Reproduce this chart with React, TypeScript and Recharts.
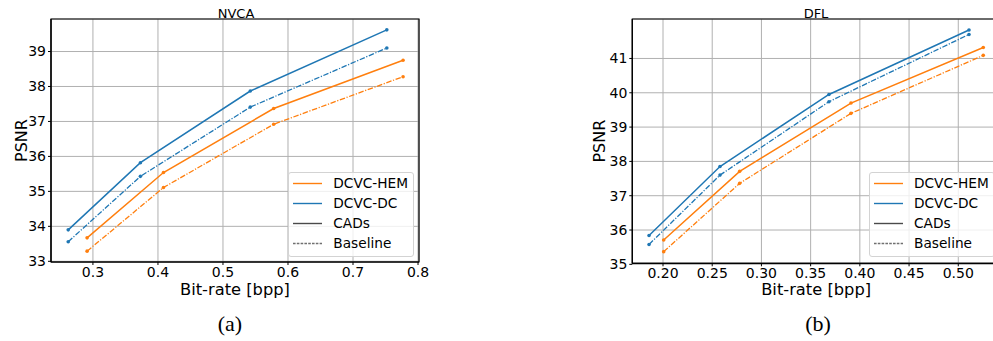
import React from 'react';
import { LineChart, Line, XAxis, YAxis, CartesianGrid, ReferenceArea, Legend, Label } from 'recharts';

const COLOR_HEM = '#ff7f0e';
const COLOR_DC = '#1f77b4';

// (a) NVCA
const nvcaHemRate = [0.291, 0.4085, 0.578, 0.777];
const nvcaHemCads = [33.67, 35.54, 37.37, 38.75];
const nvcaHemBase = [33.29, 35.11, 36.92, 38.28];
const nvcaDcRate = [0.262, 0.373, 0.542, 0.752];
const nvcaDcCads = [33.9, 35.82, 37.87, 39.62];
const nvcaDcBase = [33.56, 35.43, 37.41, 39.1];
const nvcaXTicks = [0.3, 0.4, 0.5, 0.6, 0.7, 0.8];
const nvcaYTicks = [33, 34, 35, 36, 37, 38, 39];

// (b) DFL
const dflHemRate = [0.2007, 0.2779, 0.391, 0.5254];
const dflHemCads = [35.71, 37.71, 39.7, 41.32];
const dflHemBase = [35.37, 37.36, 39.4, 41.09];
const dflDcRate = [0.1858, 0.2579, 0.3686, 0.5109];
const dflDcCads = [35.84, 37.85, 39.95, 41.83];
const dflDcBase = [35.58, 37.6, 39.74, 41.7];
const dflXTicks = [0.2, 0.25, 0.3, 0.35, 0.4, 0.45, 0.5];
const dflYTicks = [35, 36, 37, 38, 39, 40, 41];

const legendItems = [
  { label: 'DCVC-HEM', color: COLOR_HEM, dash: '' },
  { label: 'DCVC-DC', color: COLOR_DC, dash: '' },
  { label: 'CADs', color: '#4a4a4a', dash: '' },
  { label: 'Baseline', color: '#707070', dash: '2.6 1.2' },
];

const zip = (xs: number[], ys: number[]) => xs.map((x, i) => ({ x, y: ys[i] }));

type Series = { name: string; rate: number[]; vals: number[]; color: string; dashed: boolean };

type PanelProps = {
  left: number;
  width: number;
  yAxisWidth: number;
  marginRight: number;
  xAxisHeight: number;
  xDomain: [number, number];
  yDomain: [number, number];
  xTicks: number[];
  yTicks: number[];
  xDecimals: number;
  series: Series[];
  legendLeft: number;
  legendTop: number;
  psnrX: number;
  xLabelY: number;
};

const LegendBox = () => (
  <div
    style={{
      boxSizing: 'border-box',
      width: 126,
      height: 85,
      border: '1px solid #d3d3d3',
      borderRadius: 3,
      background: 'rgba(255,255,255,0.8)',
      paddingTop: 0,
      fontFamily: '"DejaVu Sans", sans-serif',
      fontSize: 13.7,
      color: '#000',
    }}
  >
    {legendItems.map((it) => (
      <div key={it.label} style={{ display: 'flex', alignItems: 'center', height: 20 }}>
        <svg width={44} height={20} style={{ display: 'block' }}>
          <line x1={4} x2={33} y1={10.5} y2={10.5} stroke={it.color} strokeWidth={1.4} strokeDasharray={it.dash || undefined} />
        </svg>
        <span style={{ whiteSpace: 'nowrap', lineHeight: '20px' }}>{it.label}</span>
      </div>
    ))}
  </div>
);

const Panel = (p: PanelProps) => {
  const height = 300;
  const plotLeft = p.yAxisWidth;
  const plotRight = p.width - p.marginRight;
  const cx = (plotLeft + plotRight) / 2;
  const plotTop = 19;
  const plotBottom = height - p.xAxisHeight;
  const cy = (plotTop + plotBottom) / 2;
  return (
    <div style={{ position: 'absolute', left: p.left, top: 0 }}>
      <LineChart
        width={p.width}
        height={height}
        margin={{ top: plotTop, right: p.marginRight, bottom: 0, left: 0 }}
        style={{ fontFamily: '"DejaVu Sans", sans-serif' }}
      >
        <CartesianGrid stroke="#b0b0b0" strokeWidth={1} />
        <XAxis
          dataKey="x"
          type="number"
          domain={p.xDomain}
          allowDataOverflow
          ticks={p.xTicks}
          interval={0}
          height={p.xAxisHeight}
          tickFormatter={(v: number) => v.toFixed(p.xDecimals)}
          tick={{ fill: '#000', fontSize: 14 }}
          tickLine={{ stroke: '#000' }}
          axisLine={{ stroke: '#000', strokeWidth: 1.2 }}
          tickSize={3}
          tickMargin={2}
        >
          <Label
            content={() => (
              <text x={cx} y={p.xLabelY} textAnchor="middle" fontSize={16.3} fill="#000">
                Bit-rate [bpp]
              </text>
            )}
          />
        </XAxis>
        <YAxis
          type="number"
          domain={p.yDomain}
          allowDataOverflow
          ticks={p.yTicks}
          interval={0}
          width={p.yAxisWidth}
          tick={{ fill: '#000', fontSize: 14 }}
          tickLine={{ stroke: '#000' }}
          axisLine={{ stroke: '#000', strokeWidth: 1.2 }}
          tickSize={3}
          tickMargin={2}
        >
          <Label
            content={() => (
              <text
                x={p.psnrX}
                y={cy}
                textAnchor="middle"
                fontSize={16}
                fill="#000"
                transform={`rotate(-90, ${p.psnrX}, ${cy})`}
              >
                PSNR
              </text>
            )}
          />
        </YAxis>
        <ReferenceArea
          x1={p.xDomain[0]}
          x2={p.xDomain[1]}
          y1={p.yDomain[0]}
          y2={p.yDomain[1]}
          fill="none"
          fillOpacity={0}
          stroke="#000"
          strokeWidth={1.2}
          ifOverflow="visible"
        />
        {p.series.map((s) => (
          <Line
            key={s.name}
            name={s.name}
            data={zip(s.rate, s.vals)}
            dataKey="y"
            type="linear"
            stroke={s.color}
            strokeWidth={s.dashed ? 1.3 : 1.5}
            strokeDasharray={s.dashed ? '5.5 1.6 1.2 1.6' : undefined}
            dot={{ r: 1.8, fill: s.color, stroke: s.color, strokeWidth: 0 }}
            activeDot={false}
            isAnimationActive={false}
          />
        ))}
        <Legend
          layout="horizontal"
          verticalAlign="middle"
          align="center"
          content={() => <LegendBox />}
          wrapperStyle={{ left: p.legendLeft, top: p.legendTop, width: 126, height: 85 }}
        />
      </LineChart>
    </div>
  );
};

const nvcaSeries: Series[] = [
  { name: 'DCVC-DC CADs', rate: nvcaDcRate, vals: nvcaDcCads, color: COLOR_DC, dashed: false },
  { name: 'DCVC-DC Baseline', rate: nvcaDcRate, vals: nvcaDcBase, color: COLOR_DC, dashed: true },
  { name: 'DCVC-HEM CADs', rate: nvcaHemRate, vals: nvcaHemCads, color: COLOR_HEM, dashed: false },
  { name: 'DCVC-HEM Baseline', rate: nvcaHemRate, vals: nvcaHemBase, color: COLOR_HEM, dashed: true },
];

const dflSeries: Series[] = [
  { name: 'DCVC-DC CADs', rate: dflDcRate, vals: dflDcCads, color: COLOR_DC, dashed: false },
  { name: 'DCVC-DC Baseline', rate: dflDcRate, vals: dflDcBase, color: COLOR_DC, dashed: true },
  { name: 'DCVC-HEM CADs', rate: dflHemRate, vals: dflHemCads, color: COLOR_HEM, dashed: false },
  { name: 'DCVC-HEM Baseline', rate: dflHemRate, vals: dflHemBase, color: COLOR_HEM, dashed: true },
];

const titleStyle: React.CSSProperties = {
  position: 'absolute',
  top: 6.5,
  width: 100,
  textAlign: 'center',
  fontFamily: '"DejaVu Sans", sans-serif',
  fontSize: 13,
  lineHeight: '13px',
  color: '#000',
};

const captionStyle: React.CSSProperties = {
  position: 'absolute',
  top: 312.6,
  width: 60,
  textAlign: 'center',
  fontFamily: '"Liberation Serif", serif',
  fontSize: 22,
  lineHeight: '22px',
  color: '#000',
};

export default function App() {
  return (
    <div
      style={{
        position: 'absolute',
        left: 0,
        top: 0,
        width: 993,
        height: 341,
        overflow: 'hidden',
        background: '#fff',
      }}
    >
      <Panel
        left={0}
        width={440}
        yAxisWidth={51}
        marginRight={21}
        xAxisHeight={38}
        xDomain={[0.2355, 0.8015]}
        yDomain={[32.98, 39.93]}
        xTicks={nvcaXTicks}
        yTicks={nvcaYTicks}
        xDecimals={1}
        series={nvcaSeries}
        legendLeft={288.3}
        legendTop={171.7}
        psnrX={26.7}
        xLabelY={294.5}
      />
      <Panel
        left={560}
        width={460}
        yAxisWidth={72.3}
        marginRight={20}
        xAxisHeight={36.7}
        xDomain={[0.1688, 0.5424]}
        yDomain={[35.03, 42.15]}
        xTicks={dflXTicks}
        yTicks={dflYTicks}
        xDecimals={2}
        series={dflSeries}
        legendLeft={309}
        legendTop={171.7}
        psnrX={45}
        xLabelY={294.5}
      />
      <div style={{ ...titleStyle, left: 236 - 50 }}>NVCA</div>
      <div style={{ ...titleStyle, left: 816 - 50 }}>DFL</div>
      <div style={{ ...captionStyle, left: 230 - 30 }}>(a)</div>
      <div style={{ ...captionStyle, left: 818 - 30 }}>(b)</div>
    </div>
  );
}
